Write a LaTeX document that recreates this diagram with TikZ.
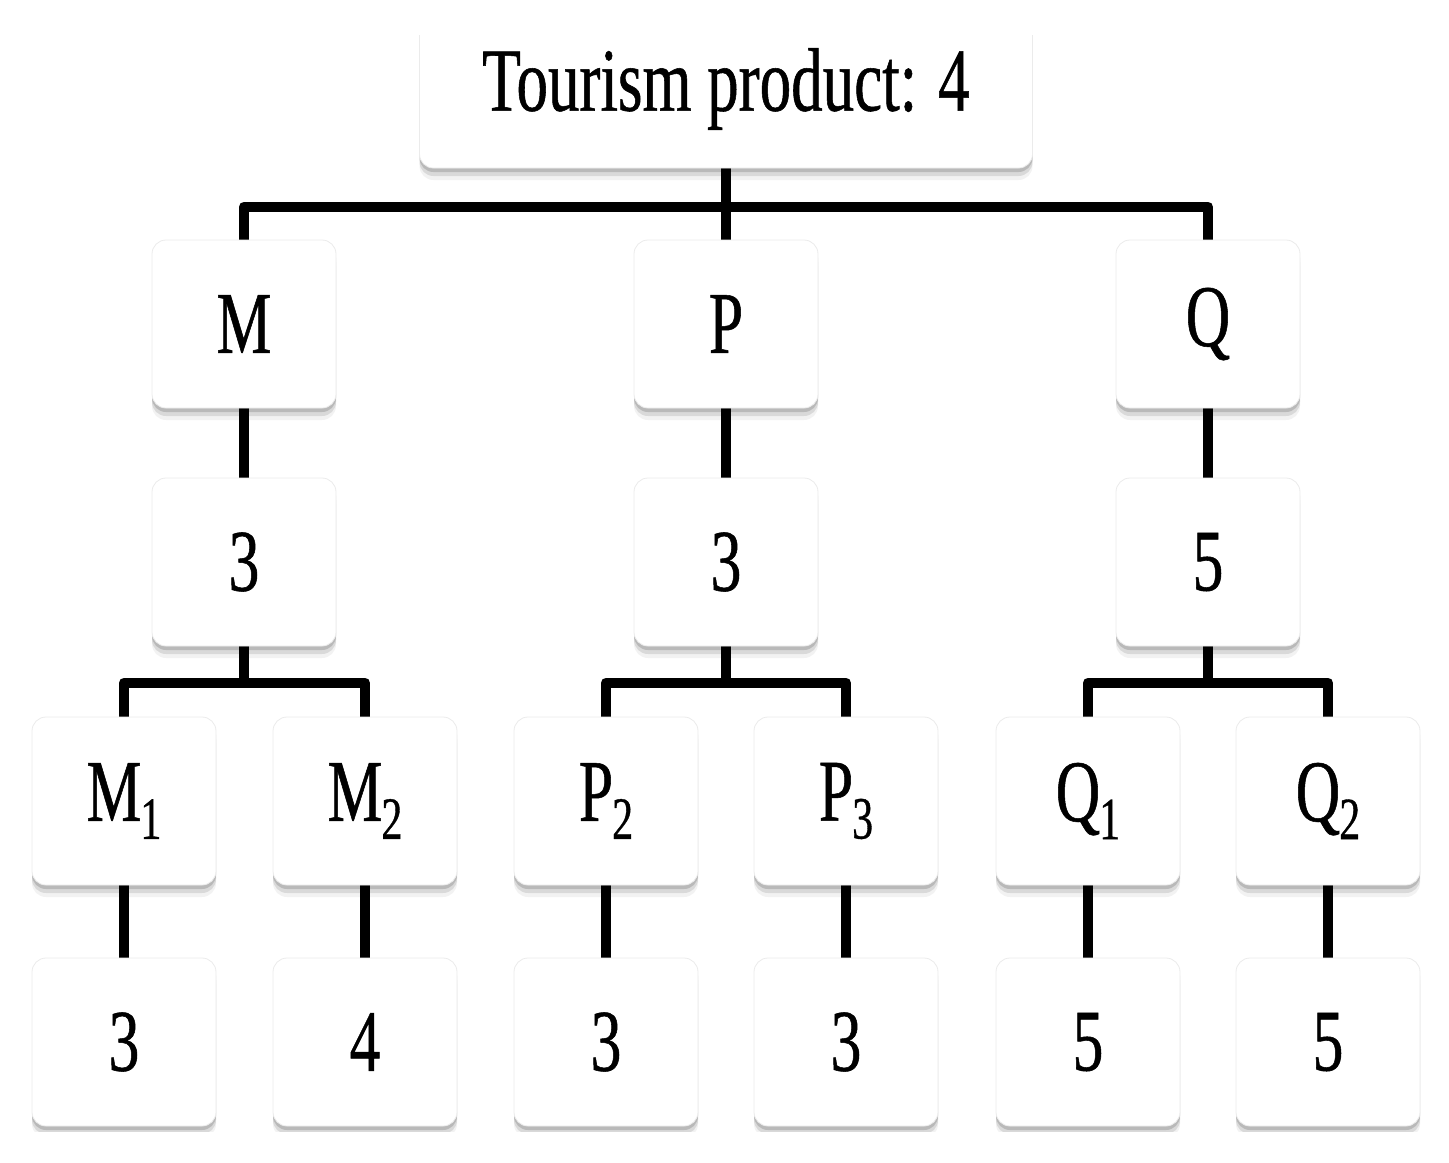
\documentclass[tikz,border=0pt]{standalone}
\usepackage{fontspec}
\setmainfont{Liberation Serif}[FakeStretch=0.7,FakeBold=0.6]
\usetikzlibrary{shadows,backgrounds}
\newcommand{\lowidx}[1]{\kern-0.5pt\raisebox{-9pt}{\fontsize{30}{30}\selectfont #1}}
\tikzset{
  card/.style={draw=black!8, fill=white, rounded corners=7pt,
    minimum width=92pt, minimum height=84pt, inner sep=0pt,
    font=\fontsize{44}{44}\selectfont,
    drop shadow={shadow xshift=0pt, shadow yshift=-6pt, opacity=0.05, fill=black},
    drop shadow={shadow xshift=0pt, shadow yshift=-4pt, opacity=0.1, fill=black},
    drop shadow={shadow xshift=0pt, shadow yshift=-2pt, opacity=0.15, fill=black}},
  link/.style={line width=5pt, line join=round}
}
\begin{document}
\begin{tikzpicture}[x=0.5pt,y=0.5pt,yscale=-1,xscale=1]
\useasboundingbox (0,0) rectangle (1449,1162);
\clip (0,35) rectangle (1449,1131);

% top
\node[card, minimum width=306.5pt, minimum height=79pt, font=\fontsize{45}{45}\selectfont] (top) at (726,89) {Tourism product: 4};

% first level
\node[card] (m) at (244,324) {M};
\node[card] (p) at (726,324) {P};
\node[card] (q) at (1208,324) {Q};

\node[card] (mv) at (244,562) {3};
\node[card] (pv) at (726,562) {3};
\node[card] (qv) at (1208,562) {5};

% second level
\node[card] (m1) at (124,801) {M\lowidx{1}};
\node[card] (m2) at (365,801) {M\lowidx{2}};
\node[card] (p2) at (606,801) {P\lowidx{2}};
\node[card] (p3) at (846,801) {P\lowidx{3}};
\node[card] (q1) at (1088,801) {Q\lowidx{1}};
\node[card] (q2) at (1328,801) {Q\lowidx{2}};

\node[card] (m1v) at (124,1042) {3};
\node[card] (m2v) at (365,1042) {4};
\node[card] (p2v) at (606,1042) {3};
\node[card] (p3v) at (846,1042) {3};
\node[card] (q1v) at (1088,1042) {5};
\node[card] (q2v) at (1328,1042) {5};

\begin{pgfonlayer}{background}
\draw[link] (top) -- (p);
\draw[link] (m.north) -- ++(0,-33) -| (q.north);
\draw[link] (m) -- (mv);
\draw[link] (p) -- (pv);
\draw[link] (q) -- (qv);
\draw[link] (mv.south) -- ++(0,37);
\draw[link] (pv.south) -- ++(0,37);
\draw[link] (qv.south) -- ++(0,37);
\draw[link] (m1.north) -- ++(0,-34) -| (m2.north);
\draw[link] (p2.north) -- ++(0,-34) -| (p3.north);
\draw[link] (q1.north) -- ++(0,-34) -| (q2.north);
\draw[link] (m1) -- (m1v);
\draw[link] (m2) -- (m2v);
\draw[link] (p2) -- (p2v);
\draw[link] (p3) -- (p3v);
\draw[link] (q1) -- (q1v);
\draw[link] (q2) -- (q2v);
\end{pgfonlayer}

\end{tikzpicture}
\end{document}
